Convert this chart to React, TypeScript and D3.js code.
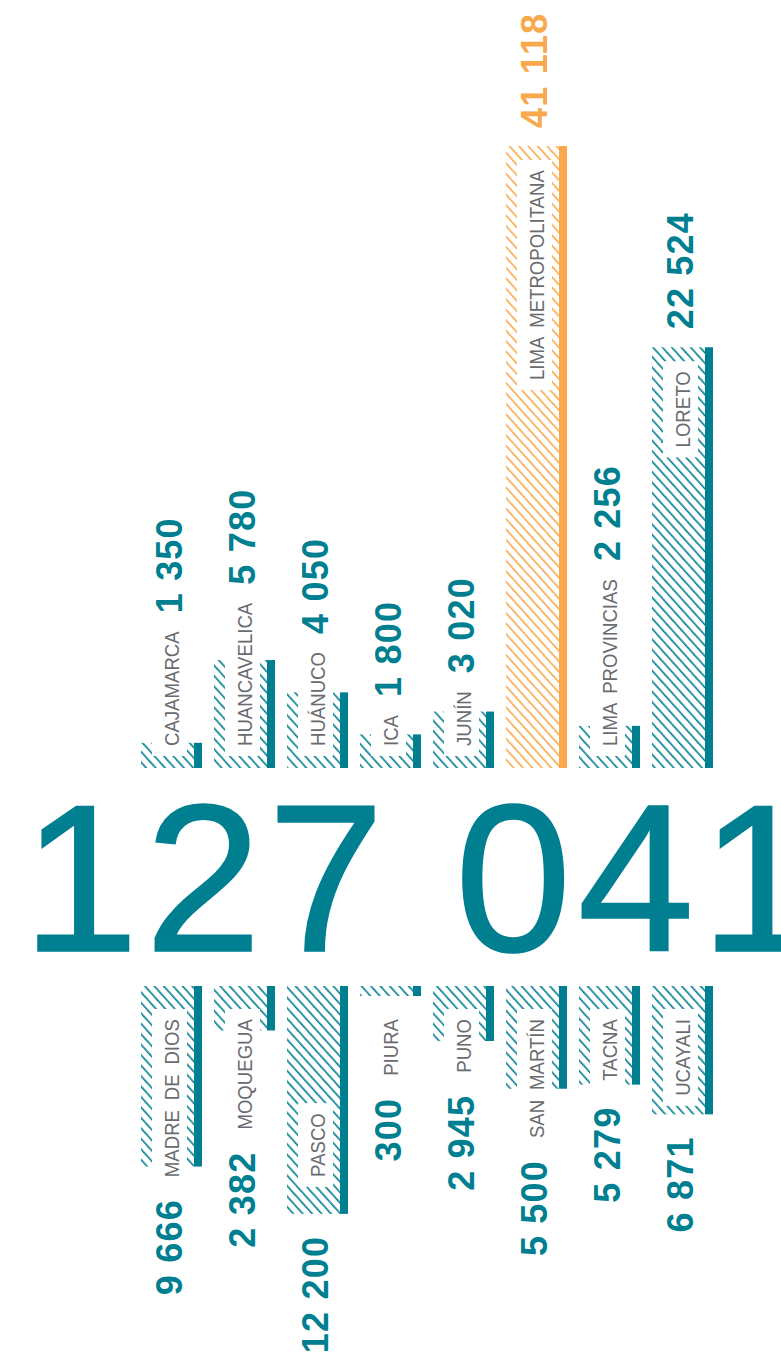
import React, { useEffect, useRef } from "react";
import * as d3 from "d3";

const topRegions = ["CAJAMARCA", "HUANCAVELICA", "HUÁNUCO", "ICA", "JUNÍN", "LIMA METROPOLITANA", "LIMA PROVINCIAS", "LORETO"];
const topValues = [1350, 5780, 4050, 1800, 3020, 41118, 2256, 22524];
const bottomRegions = ["MADRE DE DIOS", "MOQUEGUA", "PASCO", "PIURA", "PUNO", "SAN MARTÍN", "TACNA", "UCAYALI"];
const bottomValues = [9666, 2382, 12200, 300, 2945, 5500, 5279, 6871];
const highlighted = ["LIMA METROPOLITANA"];

const W = 781;
const H = 1352;
const TEAL = "#007F91";
const ORANGE = "#F9A84B";
const GRAY = "#6A6B6E";

export default function App() {
  const ref = useRef<SVGSVGElement>(null);

  useEffect(() => {
    const svg = d3.select(ref.current);
    svg.selectAll("*").remove();
    const locale = d3.formatLocale({ decimal: ",", thousands: " ", grouping: [3], currency: ["", ""] });
    const fmt = locale.format(",d");

    const defs = svg.append("defs");
    [["hatch-teal", TEAL], ["hatch-orange", ORANGE]].forEach(([id, c]) => {
      const p = defs
        .append("pattern")
        .attr("id", id)
        .attr("patternUnits", "userSpaceOnUse")
        .attr("width", 7)
        .attr("height", 10)
        .attr("patternTransform", "rotate(-42)");
      p.append("rect").attr("x", 0).attr("y", 0).attr("width", 1.6).attr("height", 10).attr("fill", c);
    });

    const x = d3.scaleLinear().domain([0, 7]).range([141, 652]);
    const h = d3.scaleLinear().domain([0, 33300]).range([0, 622]).clamp(true);
    const topBase = 768;
    const botBase = 986;
    const hatchW = 53;
    const barW = 8;
    const SX = 0.93;

    const drawColumn = (name: string, v: number, i: number, top: boolean) => {
      const x0 = x(i);
      const bh = Math.max(h(v), 10);
      const hl = highlighted.includes(name);
      const color = hl ? ORANGE : TEAL;
      const g = svg.append("g");
      const y0 = top ? topBase - bh : botBase;
      g.append("rect").attr("x", x0).attr("y", y0).attr("width", hatchW).attr("height", bh)
        .attr("fill", `url(#${hl ? "hatch-orange" : "hatch-teal"})`);
      const label = g.append("text")
        .attr("font-family", "'Liberation Sans', Arial, sans-serif")
        .attr("font-size", 20)
        .attr("word-spacing", 5)
        .attr("fill", GRAY)
        .text(name);
      const len = (label.node() as SVGTextElement).getComputedTextLength() * SX;
      const fits = bh >= len + 60;
      let labelBottom: number;
      if (top) {
        labelBottom = fits ? topBase - bh + 24 + len : topBase - 22;
      } else {
        labelBottom = fits ? botBase + bh - 37 : botBase + 33 + len;
      }
      const labelTop = labelBottom - len;
      label.attr("transform", `translate(${x0 + 37.5},${labelBottom}) rotate(-90) scale(${SX},1)`);
      g.insert("rect", () => label.node() as any)
        .attr("x", x0 + 11).attr("y", labelTop - 10).attr("width", 35).attr("height", len + 20)
        .attr("fill", "#fff");
      g.append("rect").attr("x", x0 + hatchW).attr("y", y0).attr("width", barW).attr("height", bh).attr("fill", color);
      const valY = top ? Math.min(labelTop, topBase - bh) - 18 : Math.max(labelBottom, botBase + bh) + 22;
      g.append("text")
        .attr("transform", `translate(${x0 + 41},${valY}) rotate(-90)`)
        .attr("text-anchor", top ? "start" : "end")
        .attr("font-family", "'Liberation Sans', Arial, sans-serif")
        .attr("font-weight", 700)
        .attr("font-size", 36)
        .attr("letter-spacing", 1.2)
        .attr("fill", color)
        .text(fmt(v));
    };

    topRegions.forEach((n, i) => drawColumn(n, topValues[i], i, true));
    bottomRegions.forEach((n, i) => drawColumn(n, bottomValues[i], i, false));

    const total = d3.sum(topValues) + d3.sum(bottomValues);
    svg.append("text")
      .attr("x", 22)
      .attr("y", 951)
      .attr("font-family", "'Liberation Sans', Arial, sans-serif")
      .attr("font-size", 210)
      .attr("letter-spacing", 6)
      .attr("fill", TEAL)
      .attr("stroke", TEAL)
      .attr("stroke-width", 1.5)
      .text(fmt(total));
  }, []);

  return <svg ref={ref} width={W} height={H} style={{ position: "absolute", left: 0, top: 0 }} />;
}
